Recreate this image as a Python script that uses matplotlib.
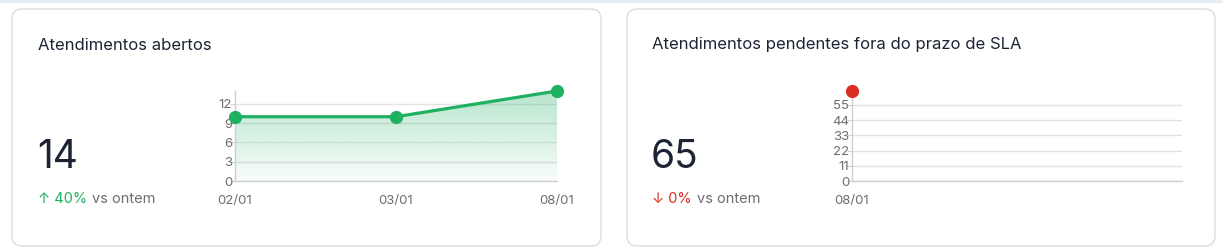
import matplotlib
matplotlib.use("Agg")
import matplotlib.pyplot as plt
import numpy as np
from matplotlib.patches import FancyBboxPatch, Rectangle, Polygon

plt.rcParams["font.family"] = ["Inter", "DejaVu Sans"]

# card 1
open_title = "Atendimentos abertos"
open_total = "14"
open_change = "40%"
open_days = ["02/01", "03/01", "08/01"]
open_values = [10, 10, 14]
open_yticks = [0, 3, 6, 9, 12]

# card 2
late_title = "Atendimentos pendentes fora do prazo de SLA"
late_total = "65"
late_change = "0%"
late_days = ["08/01"]
late_values = [65]
late_yticks = [0, 11, 22, 33, 44, 55]

GREEN = "#1fb062"
RED = "#dc2f23"
DARK = "#1c2434"
GRAY = "#6e6e6e"
GRID = "#e3e3e3"

W, H = 1223, 248
fig = plt.figure(figsize=(W / 100, H / 100), dpi=100)
fig.patch.set_facecolor("white")


def px(x, y):
    return x / W, 1 - y / H


# top strip
fig.patches.append(Rectangle((0, 1 - 3 / H), 1, 3 / H, transform=fig.transFigure,
                             facecolor="#e6edf5", edgecolor="none", zorder=-10))

# cards
for x0, x1 in [(12, 601), (627, 1215)]:
    y0, y1 = 9, 246
    r = 10
    box = FancyBboxPatch(((x0 + r) / W, 1 - (y1 - r) / H), (x1 - x0 - 2 * r) / W,
                         (y1 - y0 - 2 * r) / H,
                         boxstyle=f"round,pad={r / W}", transform=fig.transFigure,
                         facecolor="white", edgecolor="#dcdcdc", linewidth=1,
                         mutation_aspect=W / H, zorder=-10)
    fig.patches.append(box)


def card_text(x, title, total, change, color, arrow):
    fig.text(*px(x, 45), title, fontsize=12, color=DARK, va="center", ha="left")
    fig.text(*px(x - 1, 158), total, fontsize=28, color=DARK, va="center", ha="left")
    t = fig.text(*px(x, 199), f"{arrow} {change}", fontsize=10.5, color=color,
                 va="center", ha="left")
    fig.canvas.draw()
    bb = t.get_window_extent()
    fig.text(bb.x1 / W + 5 / W, 1 - 199 / H, "vs ontem", fontsize=10.5, color=GRAY,
             va="center", ha="left")


card_text(38, open_title, open_total, open_change, GREEN, "↑")
card_text(652, late_title, late_total, late_change, RED, "↓")


def style_axes(ax, yticks):
    ax.set_facecolor("none")
    for s in ["top", "right"]:
        ax.spines[s].set_visible(False)
    for s in ["left", "bottom"]:
        ax.spines[s].set_color("#cfcfcf")
        ax.spines[s].set_linewidth(1)
    ax.set_yticks(yticks)
    ax.grid(axis="y", color=GRID, linewidth=1)
    ax.set_axisbelow(True)
    ax.tick_params(axis="y", length=3.5, color="#cfcfcf", pad=-1.5,
                   labelsize=9.5, labelcolor=GRAY)
    ax.tick_params(axis="x", length=0, pad=10, labelsize=9.5, labelcolor=GRAY)


# chart 1
ax1 = fig.add_axes([235 / W, 1 - 181 / H, (557 - 235) / W, (181 - 91) / H])
x1 = np.arange(len(open_days))
ax1.set_xlim(0, len(open_days) - 1)
ax1.set_ylim(0, max(open_values))
style_axes(ax1, open_yticks)
ax1.set_xticks(x1, open_days)

grad = np.linspace(0.03, 0.32, 256).reshape(-1, 1)
rgba = np.zeros((256, 1, 4))
rgba[..., :3] = matplotlib.colors.to_rgb(GREEN)
rgba[..., 3] = grad
im = ax1.imshow(rgba, extent=[0, len(open_days) - 1, 0, max(open_values)],
                origin="lower", aspect="auto", zorder=1)
poly = Polygon(list(zip(x1, open_values)) + [(x1[-1], 0), (x1[0], 0)],
               closed=True, transform=ax1.transData, facecolor="none")
im.set_clip_path(poly)
ax1.plot(x1, open_values, color=GREEN, linewidth=2.3, marker="o",
         markersize=8.5, zorder=3, clip_on=False)

# chart 2
ax2 = fig.add_axes([852 / W, 1 - 181 / H, (1182 - 852) / W, (181 - 91) / H])
x2 = np.arange(len(late_days))
ax2.set_xlim(0, 1)
ax2.set_ylim(0, max(late_values))
style_axes(ax2, late_yticks)
ax2.spines["left"].set_bounds(0, 60)
ax2.set_xticks(x2, late_days)
ax2.plot(x2, late_values, color=RED, linewidth=2.3, marker="o",
         markersize=8.5, zorder=3, clip_on=False)

fig.savefig("out.png", dpi=100)
